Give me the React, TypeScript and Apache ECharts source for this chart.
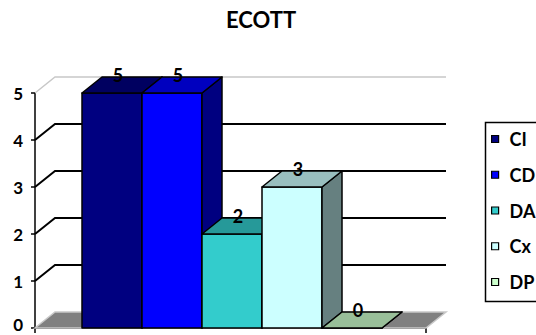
import { useEffect, useRef } from "react";
import * as echarts from "echarts";

// Chart content
const chartTitle = "ECOTT";
const categories = ["ECOTT"];
const seriesNames = ["CI", "CD", "DA", "Cx", "DP"];
const seriesValues = [5, 5, 2, 3, 0];
const yTicks = [0, 1, 2, 3, 4, 5];

// Styling
const palette = ["#000080", "#0000FF", "#33CCCC", "#CCFFFF", "#CCFFCC"];
const FONT = "Lato, 'Open Sans', sans-serif";
const DX = 20; // depth offset of the back wall, px
const DY = -16;
const GAP_FRAC = 47 / 391; // empty space before the first column, share of the band
const BAR_FRAC = 60 / 391; // width of one column, share of the band

function shade(hex: string, f: number): string {
  const n = parseInt(hex.slice(1), 16);
  const r = Math.round(((n >> 16) & 255) * f);
  const g = Math.round(((n >> 8) & 255) * f);
  const b = Math.round((n & 255) * f);
  return `rgb(${r},${g},${b})`;
}

// Back wall, side wall gridlines and floor
function renderWalls(params: any, api: any) {
  const cs = params.coordSys;
  const v = api.value(1);
  const y = api.coord([0, v])[1];
  const left = cs.x;
  const right = cs.x + cs.width;
  if (v === 0) {
    return {
      type: "polygon",
      shape: {
        points: [
          [left, y],
          [right, y],
          [right + DX, y + DY],
          [left + DX, y + DY],
        ],
      },
      style: { fill: "#808080", stroke: "#c8c8c8", lineWidth: 1.5 },
    };
  }
  const isTop = v === yTicks[yTicks.length - 1];
  return {
    type: "polyline",
    shape: {
      points: [
        [left, y],
        [left + DX, y + DY],
        [right + DX, y + DY],
      ],
    },
    style: {
      fill: null,
      stroke: isTop ? "#c8c8c8" : "#000",
      lineWidth: isTop ? 1.5 : 2,
    },
  };
}

// One 3D column: front face, top face, right side face and its value label
function makeColumnRenderer(idx: number, color: string) {
  return (params: any, api: any) => {
    const cs = params.coordSys;
    const v = api.value(1);
    const by = api.coord([0, 0])[1];
    const ty = api.coord([0, v])[1];
    const bw = cs.width;
    const x0 = cs.x + bw * GAP_FRAC + idx * bw * BAR_FRAC;
    const x1 = x0 + bw * BAR_FRAC;
    const line = { stroke: "#000", lineWidth: 1.5, lineJoin: "round" };
    return {
      type: "group",
      children: [
        {
          type: "rect",
          shape: { x: x0, y: ty, width: x1 - x0, height: by - ty },
          style: { fill: color, ...line },
        },
        {
          type: "polygon",
          shape: {
            points: [
              [x1, ty],
              [x1 + DX, ty + DY],
              [x1 + DX, by + DY],
              [x1, by],
            ],
          },
          style: { fill: shade(color, 0.5), ...line },
        },
        {
          type: "polygon",
          shape: {
            points: [
              [x0, ty],
              [x1, ty],
              [x1 + DX, ty + DY],
              [x0 + DX, ty + DY],
            ],
          },
          style: { fill: shade(color, 0.75), ...line },
        },
        {
          type: "text",
          style: {
            text: String(v),
            x: (x0 + x1) / 2 + 6,
            y: ty + DY - 2,
            align: "center",
            verticalAlign: "middle",
            fill: "#000",
            font: `bold 18px ${FONT}`,
          },
        },
      ],
    };
  };
}

export default function App() {
  const ref = useRef<HTMLDivElement>(null);

  useEffect(() => {
    document.body.style.margin = "0";
    if (!ref.current) return;
    const chart = echarts.init(ref.current, null, { renderer: "svg" });

    const columnSeries = seriesNames.map((name, i) => ({
      name,
      type: "custom",
      coordinateSystem: "cartesian2d",
      itemStyle: { color: palette[i] },
      data: [[0, seriesValues[i]]],
      renderItem: makeColumnRenderer(i, palette[i]),
      z: 3,
    }));

    chart.setOption({
      animation: false,
      color: palette,
      title: {
        text: chartTitle,
        left: 261,
        top: 8,
        padding: 0,
        textAlign: "center",
        textStyle: { fontFamily: FONT, fontWeight: "bold", fontSize: 22, color: "#000" },
      },
      grid: { left: 35, right: 110, top: 93, bottom: 7, containLabel: false },
      xAxis: {
        type: "category",
        data: categories,
        boundaryGap: true,
        axisLine: { show: true, lineStyle: { color: "#000", width: 1.5 } },
        axisTick: { show: true, length: 5, lineStyle: { color: "#000", width: 1.5 } },
        axisLabel: { show: false },
        splitLine: { show: false },
      },
      yAxis: {
        type: "value",
        min: 0,
        max: 5,
        interval: 1,
        axisLine: { show: true, lineStyle: { color: "#000", width: 1.5 } },
        axisTick: { show: true, length: 4, lineStyle: { color: "#000", width: 1.5 } },
        axisLabel: {
          margin: 12,
          color: "#000",
          fontFamily: FONT,
          fontWeight: "bold",
          fontSize: 17,
          // the bottom label sits on the page edge, so lift it a little
          formatter: (v: number) => (v === 0 ? `{low|${v}}` : `${v}`),
          rich: {
            low: {
              fontFamily: FONT,
              fontWeight: "bold",
              fontSize: 17,
              color: "#000",
              padding: [0, 0, 8, 0],
            },
          },
        },
        splitLine: { show: false },
      },
      legend: {
        data: seriesNames,
        orient: "vertical",
        left: 491,
        top: 130,
        padding: 0,
        itemWidth: 7,
        itemHeight: 7,
        itemGap: 17.75,
        icon: "rect",
        itemStyle: { borderColor: "#000", borderWidth: 1.2 },
        textStyle: {
          fontFamily: FONT,
          fontWeight: "bold",
          fontSize: 18,
          lineHeight: 18,
          color: "#000",
          padding: [0, 0, 0, 6],
        },
      },
      graphic: [
        {
          type: "rect",
          left: 483,
          top: 120,
          shape: { x: 0, y: 0, width: 70, height: 179 },
          style: { fill: "none", stroke: "#000", lineWidth: 1.5 },
          silent: true,
        },
      ],
      series: [
        {
          name: "walls",
          type: "custom",
          coordinateSystem: "cartesian2d",
          data: yTicks.map((t) => [0, t]),
          renderItem: renderWalls,
          silent: true,
          z: 1,
        },
        ...columnSeries,
      ],
    });

    return () => chart.dispose();
  }, []);

  return <div ref={ref} style={{ width: 536, height: 335 }} />;
}
